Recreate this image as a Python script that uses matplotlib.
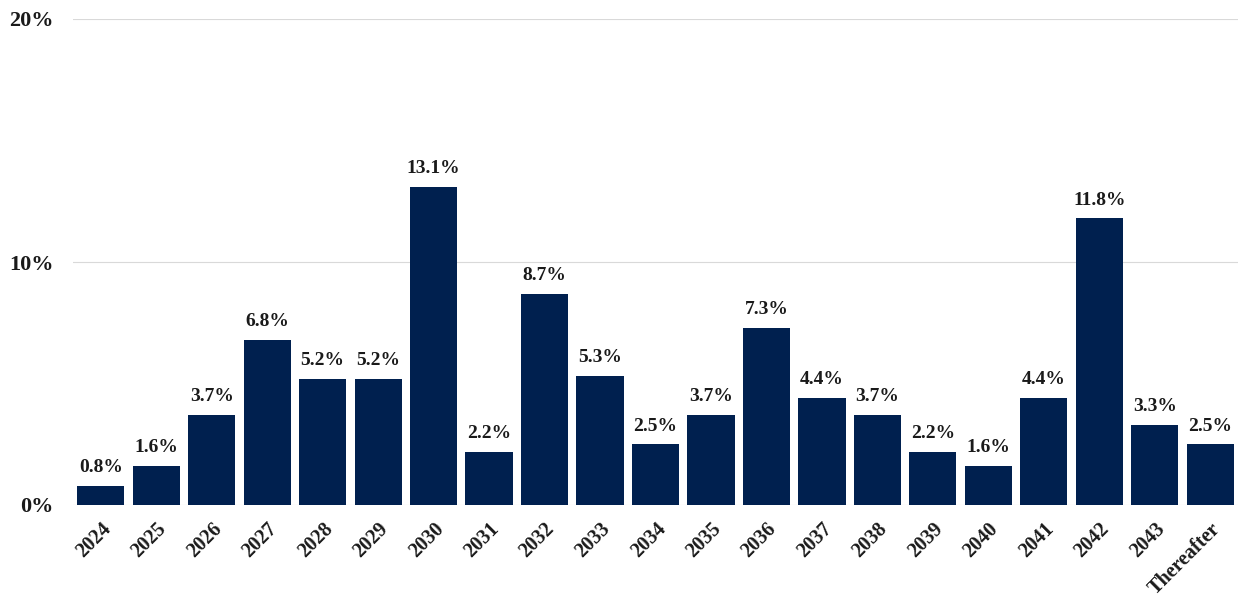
import matplotlib
matplotlib.use("Agg")
import matplotlib.pyplot as plt
from matplotlib.transforms import ScaledTranslation

categories = ["2024", "2025", "2026", "2027", "2028", "2029", "2030", "2031", "2032", "2033",
              "2034", "2035", "2036", "2037", "2038", "2039", "2040", "2041", "2042", "2043",
              "Thereafter"]
values = [0.8, 1.6, 3.7, 6.8, 5.2, 5.2, 13.1, 2.2, 8.7, 5.3,
          2.5, 3.7, 7.3, 4.4, 3.7, 2.2, 1.6, 4.4, 11.8, 3.3, 2.5]
yticks = [0, 10, 20]
ytick_labels = ["0%", "10%", "20%"]

plt.rcParams['font.family'] = ['Liberation Serif', 'DejaVu Serif']

fig = plt.figure(figsize=(12.43, 6.08), dpi=100)
ax = fig.add_axes([73/1243, 1 - 505/608, (1238 - 73)/1243, (505 - 19)/608])

x = list(range(len(categories)))
ax.bar(x, values, width=0.85, color='#00204F', zorder=3)
for xi, v in zip(x, values):
    ax.text(xi, v + 0.4, f"{v:.1f}%", ha='center', va='bottom',
            fontsize=14, fontweight='bold', color='#1a1a1a')

ax.set_xlim(-0.5, len(categories) - 0.5)
ax.set_ylim(0, 20)
ax.set_yticks(yticks)
ax.set_yticklabels(ytick_labels, fontsize=16, fontweight='bold', color='#1a1a1a')
ax.set_xticks(x)
ax.set_xticklabels(categories, rotation=45, ha='right', rotation_mode='anchor',
                   fontsize=14.5, fontweight='bold', color='#1a1a1a')
offset = ScaledTranslation(-6/100, 0, fig.dpi_scale_trans)
for lbl in ax.get_xticklabels():
    lbl.set_transform(lbl.get_transform() + offset)
ax.tick_params(axis='both', length=0)
ax.tick_params(axis='y', pad=14)
ax.tick_params(axis='x', pad=10)
for s in ax.spines.values():
    s.set_visible(False)
ax.grid(axis='y', color='#d9d9d9', linewidth=0.8, zorder=0)
ax.set_axisbelow(True)

fig.savefig("out.png", dpi=100, facecolor='white')
